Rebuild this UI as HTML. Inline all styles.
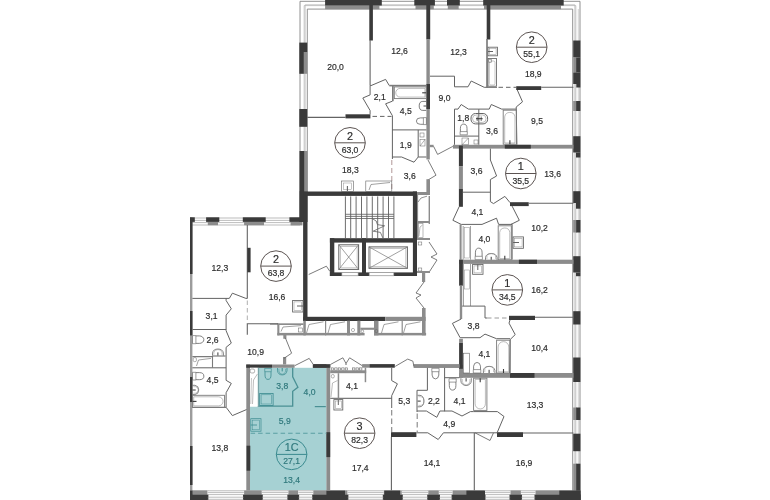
<!DOCTYPE html>
<html><head><meta charset="utf-8"><title>План этажа</title>
<style>html,body{margin:0;padding:0;background:#fff}svg{display:block;will-change:transform}text{font-family:"Liberation Sans",Arial,sans-serif;stroke-width:0.18px}</style>
</head><body>
<svg width="770" height="500" viewBox="0 0 770 500">
<rect width="770" height="500" fill="#fff"/>
<rect x="258.3" y="367.8" width="68.2" height="39.2" fill="#a6d1d3"/>
<rect x="250.0" y="406.5" width="76.5" height="84.0" fill="#a6d1d3"/>
<polyline points="300.0,192.0 300.0,1.3 580.0,1.3 580.0,500.0" fill="none" stroke="#858585" stroke-width="0.9"/>
<polyline points="304.2,192.0 304.2,5.6 575.8,5.6 575.8,500.0" fill="none" stroke="#a8a8a8" stroke-width="0.7"/>
<polyline points="307.3,192.0 307.3,9.1 572.7,9.1 572.7,500.0" fill="none" stroke="#858585" stroke-width="0.9"/>
<polyline points="305.3,192.0 305.3,4.6 574.7,4.6 574.7,495.0" fill="none" stroke="#b5b5b5" stroke-width="0.6"/>
<polyline points="578.3,9.0 578.3,490.0" fill="none" stroke="#b5b5b5" stroke-width="0.6"/>
<polyline points="190.0,490.6 580.0,490.6" fill="none" stroke="#8e8e8e" stroke-width="0.6"/>
<polyline points="190.0,493.0 580.0,493.0" fill="none" stroke="#8e8e8e" stroke-width="0.6"/>
<polyline points="190.0,496.0 580.0,496.0" fill="none" stroke="#8e8e8e" stroke-width="0.6"/>
<polyline points="190.0,499.2 580.0,499.2" fill="none" stroke="#8e8e8e" stroke-width="0.6"/>
<rect x="190.0" y="222.0" width="2.4" height="278.0" fill="#9c9c9c"/>
<polyline points="190.0,218.0 300.0,218.0" fill="none" stroke="#8e8e8e" stroke-width="0.6"/>
<polyline points="190.0,220.4 300.0,220.4" fill="none" stroke="#8e8e8e" stroke-width="0.6"/>
<polyline points="190.0,222.6 300.0,222.6" fill="none" stroke="#8e8e8e" stroke-width="0.6"/>
<polyline points="190.0,225.0 300.0,225.0" fill="none" stroke="#8e8e8e" stroke-width="0.6"/>
<rect x="325.1" y="5.5" width="54.3" height="3.7" fill="#8c8c8c"/>
<rect x="325.1" y="0.0" width="56.7" height="5.5" fill="#3a3a3a"/>
<rect x="415.5" y="5.5" width="18.3" height="3.7" fill="#8c8c8c"/>
<rect x="414.3" y="0.0" width="20.6" height="5.5" fill="#3a3a3a"/>
<rect x="447.8" y="5.5" width="10.9" height="3.7" fill="#8c8c8c"/>
<rect x="447.0" y="0.0" width="12.8" height="5.5" fill="#3a3a3a"/>
<rect x="484.0" y="5.5" width="77.0" height="3.7" fill="#8c8c8c"/>
<rect x="483.2" y="0.0" width="80.5" height="5.5" fill="#3a3a3a"/>
<rect x="369.3" y="5.0" width="3.6" height="35.5" fill="#3a3a3a"/>
<rect x="426.3" y="5.0" width="3.9" height="34.5" fill="#3a3a3a"/>
<rect x="486.7" y="5.0" width="3.6" height="34.5" fill="#3a3a3a"/>
<polyline points="370.1,40.0 370.1,85.6" fill="none" stroke="#636363" stroke-width="1.1"/>
<rect x="426.4" y="39.5" width="3.4" height="120.0" fill="#8c8c8c"/>
<rect x="426.4" y="84.0" width="3.6" height="25.0" fill="#3a3a3a"/>
<rect x="486.2" y="39.0" width="1.6" height="48.3" fill="#777"/>
<rect x="299.3" y="42.6" width="7.9" height="9.4" fill="#3a3a3a"/>
<rect x="299.3" y="52.0" width="4.6" height="21.8" fill="#3a3a3a"/>
<rect x="303.9" y="52.0" width="3.3" height="21.8" fill="#8c8c8c"/>
<rect x="299.3" y="109.0" width="7.9" height="17.8" fill="#3a3a3a"/>
<rect x="573.2" y="40.5" width="7.2" height="17.0" fill="#3a3a3a"/>
<rect x="573.2" y="57.5" width="3.6" height="15.0" fill="#8c8c8c"/>
<rect x="576.2" y="57.5" width="4.2" height="15.0" fill="#3a3a3a"/>
<rect x="573.2" y="72.5" width="7.2" height="11.5" fill="#3a3a3a"/>
<rect x="576.3" y="84.0" width="4.1" height="3.5" fill="#3a3a3a"/>
<rect x="573.2" y="101.0" width="3.6" height="10.0" fill="#8c8c8c"/>
<rect x="576.2" y="101.0" width="4.2" height="10.0" fill="#3a3a3a"/>
<rect x="573.2" y="136.2" width="7.2" height="16.3" fill="#3a3a3a"/>
<rect x="576.0" y="152.5" width="4.4" height="5.0" fill="#3a3a3a"/>
<rect x="573.2" y="191.2" width="7.2" height="11.8" fill="#3a3a3a"/>
<rect x="576.0" y="203.0" width="4.4" height="5.7" fill="#3a3a3a"/>
<rect x="573.2" y="220.0" width="3.6" height="12.5" fill="#8c8c8c"/>
<rect x="576.2" y="220.0" width="4.2" height="12.5" fill="#3a3a3a"/>
<rect x="573.2" y="256.2" width="7.2" height="16.3" fill="#3a3a3a"/>
<rect x="576.0" y="272.5" width="4.4" height="3.7" fill="#3a3a3a"/>
<rect x="573.2" y="311.2" width="7.2" height="13.3" fill="#3a3a3a"/>
<rect x="573.2" y="357.5" width="7.2" height="24.5" fill="#3a3a3a"/>
<rect x="573.2" y="407.5" width="3.6" height="12.5" fill="#8c8c8c"/>
<rect x="576.2" y="407.5" width="4.2" height="12.5" fill="#3a3a3a"/>
<rect x="573.2" y="433.7" width="7.2" height="17.5" fill="#3a3a3a"/>
<rect x="573.2" y="463.7" width="3.6" height="36.3" fill="#8c8c8c"/>
<rect x="576.2" y="463.7" width="4.2" height="36.3" fill="#3a3a3a"/>
<rect x="190.0" y="490.6" width="390.4" height="3.8" fill="#8c8c8c"/>
<rect x="190.0" y="494.4" width="18.6" height="5.6" fill="#3a3a3a"/>
<rect x="242.9" y="494.4" width="20.0" height="5.6" fill="#3a3a3a"/>
<rect x="287.2" y="494.4" width="12.1" height="5.6" fill="#3a3a3a"/>
<rect x="312.1" y="494.4" width="36.5" height="5.6" fill="#3a3a3a"/>
<rect x="382.6" y="494.4" width="20.3" height="5.6" fill="#3a3a3a"/>
<rect x="427.1" y="494.4" width="12.9" height="5.6" fill="#3a3a3a"/>
<rect x="451.4" y="494.4" width="34.3" height="5.6" fill="#3a3a3a"/>
<rect x="509.3" y="494.4" width="12.8" height="5.6" fill="#3a3a3a"/>
<rect x="534.3" y="494.4" width="46.3" height="5.6" fill="#3a3a3a"/>
<rect x="207.4" y="490.2" width="36.7" height="4.2" fill="#fff"/>
<rect x="208.6" y="490.2" width="34.3" height="9.8" fill="#fff"/>
<polyline points="207.6,490.8 243.9,490.8" fill="none" stroke="#8e8e8e" stroke-width="0.6"/>
<polyline points="207.6,492.6 243.9,492.6" fill="none" stroke="#8e8e8e" stroke-width="0.6"/>
<polyline points="207.6,494.6 243.9,494.6" fill="none" stroke="#8e8e8e" stroke-width="0.6"/>
<polyline points="207.6,497.2 243.9,497.2" fill="none" stroke="#8e8e8e" stroke-width="0.6"/>
<polyline points="207.6,499.3 243.9,499.3" fill="none" stroke="#8e8e8e" stroke-width="0.6"/>
<rect x="261.7" y="490.2" width="26.7" height="4.2" fill="#fff"/>
<rect x="262.9" y="490.2" width="24.3" height="9.8" fill="#fff"/>
<polyline points="261.9,490.8 288.2,490.8" fill="none" stroke="#8e8e8e" stroke-width="0.6"/>
<polyline points="261.9,492.6 288.2,492.6" fill="none" stroke="#8e8e8e" stroke-width="0.6"/>
<polyline points="261.9,494.6 288.2,494.6" fill="none" stroke="#8e8e8e" stroke-width="0.6"/>
<polyline points="261.9,497.2 288.2,497.2" fill="none" stroke="#8e8e8e" stroke-width="0.6"/>
<polyline points="261.9,499.3 288.2,499.3" fill="none" stroke="#8e8e8e" stroke-width="0.6"/>
<rect x="298.1" y="490.2" width="15.2" height="4.2" fill="#fff"/>
<rect x="299.3" y="490.2" width="12.8" height="9.8" fill="#fff"/>
<polyline points="298.3,490.8 313.1,490.8" fill="none" stroke="#8e8e8e" stroke-width="0.6"/>
<polyline points="298.3,492.6 313.1,492.6" fill="none" stroke="#8e8e8e" stroke-width="0.6"/>
<polyline points="298.3,494.6 313.1,494.6" fill="none" stroke="#8e8e8e" stroke-width="0.6"/>
<polyline points="298.3,497.2 313.1,497.2" fill="none" stroke="#8e8e8e" stroke-width="0.6"/>
<polyline points="298.3,499.3 313.1,499.3" fill="none" stroke="#8e8e8e" stroke-width="0.6"/>
<rect x="347.4" y="490.2" width="36.4" height="4.2" fill="#fff"/>
<rect x="348.6" y="490.2" width="34.0" height="9.8" fill="#fff"/>
<polyline points="347.6,490.8 383.6,490.8" fill="none" stroke="#8e8e8e" stroke-width="0.6"/>
<polyline points="347.6,492.6 383.6,492.6" fill="none" stroke="#8e8e8e" stroke-width="0.6"/>
<polyline points="347.6,494.6 383.6,494.6" fill="none" stroke="#8e8e8e" stroke-width="0.6"/>
<polyline points="347.6,497.2 383.6,497.2" fill="none" stroke="#8e8e8e" stroke-width="0.6"/>
<polyline points="347.6,499.3 383.6,499.3" fill="none" stroke="#8e8e8e" stroke-width="0.6"/>
<rect x="401.7" y="490.2" width="26.6" height="4.2" fill="#fff"/>
<rect x="402.9" y="490.2" width="24.2" height="9.8" fill="#fff"/>
<polyline points="401.9,490.8 428.1,490.8" fill="none" stroke="#8e8e8e" stroke-width="0.6"/>
<polyline points="401.9,492.6 428.1,492.6" fill="none" stroke="#8e8e8e" stroke-width="0.6"/>
<polyline points="401.9,494.6 428.1,494.6" fill="none" stroke="#8e8e8e" stroke-width="0.6"/>
<polyline points="401.9,497.2 428.1,497.2" fill="none" stroke="#8e8e8e" stroke-width="0.6"/>
<polyline points="401.9,499.3 428.1,499.3" fill="none" stroke="#8e8e8e" stroke-width="0.6"/>
<rect x="438.8" y="490.2" width="13.8" height="4.2" fill="#fff"/>
<rect x="440.0" y="490.2" width="11.4" height="9.8" fill="#fff"/>
<polyline points="439.0,490.8 452.4,490.8" fill="none" stroke="#8e8e8e" stroke-width="0.6"/>
<polyline points="439.0,492.6 452.4,492.6" fill="none" stroke="#8e8e8e" stroke-width="0.6"/>
<polyline points="439.0,494.6 452.4,494.6" fill="none" stroke="#8e8e8e" stroke-width="0.6"/>
<polyline points="439.0,497.2 452.4,497.2" fill="none" stroke="#8e8e8e" stroke-width="0.6"/>
<polyline points="439.0,499.3 452.4,499.3" fill="none" stroke="#8e8e8e" stroke-width="0.6"/>
<rect x="484.5" y="490.2" width="26.0" height="4.2" fill="#fff"/>
<rect x="485.7" y="490.2" width="23.6" height="9.8" fill="#fff"/>
<polyline points="484.7,490.8 510.3,490.8" fill="none" stroke="#8e8e8e" stroke-width="0.6"/>
<polyline points="484.7,492.6 510.3,492.6" fill="none" stroke="#8e8e8e" stroke-width="0.6"/>
<polyline points="484.7,494.6 510.3,494.6" fill="none" stroke="#8e8e8e" stroke-width="0.6"/>
<polyline points="484.7,497.2 510.3,497.2" fill="none" stroke="#8e8e8e" stroke-width="0.6"/>
<polyline points="484.7,499.3 510.3,499.3" fill="none" stroke="#8e8e8e" stroke-width="0.6"/>
<rect x="520.9" y="490.2" width="14.6" height="4.2" fill="#fff"/>
<rect x="522.1" y="490.2" width="12.2" height="9.8" fill="#fff"/>
<polyline points="521.1,490.8 535.3,490.8" fill="none" stroke="#8e8e8e" stroke-width="0.6"/>
<polyline points="521.1,492.6 535.3,492.6" fill="none" stroke="#8e8e8e" stroke-width="0.6"/>
<polyline points="521.1,494.6 535.3,494.6" fill="none" stroke="#8e8e8e" stroke-width="0.6"/>
<polyline points="521.1,497.2 535.3,497.2" fill="none" stroke="#8e8e8e" stroke-width="0.6"/>
<polyline points="521.1,499.3 535.3,499.3" fill="none" stroke="#8e8e8e" stroke-width="0.6"/>
<rect x="326.4" y="490.6" width="18.6" height="9.4" fill="#3a3a3a"/>
<rect x="384.3" y="490.6" width="15.7" height="9.4" fill="#3a3a3a"/>
<rect x="466.4" y="490.6" width="18.6" height="9.4" fill="#3a3a3a"/>
<rect x="559.3" y="490.6" width="21.3" height="9.4" fill="#3a3a3a"/>
<rect x="190.0" y="490.6" width="2.5" height="9.4" fill="#3a3a3a"/>
<rect x="207.8" y="221.8" width="10.2" height="3.4" fill="#8c8c8c"/>
<rect x="244.1" y="221.8" width="19.9" height="3.4" fill="#8c8c8c"/>
<rect x="290.6" y="221.8" width="11.9" height="3.6" fill="#8c8c8c"/>
<rect x="190.0" y="217.3" width="4.8" height="4.6" fill="#3a3a3a"/>
<rect x="206.1" y="217.3" width="13.2" height="4.6" fill="#3a3a3a"/>
<rect x="242.8" y="217.3" width="22.9" height="4.6" fill="#3a3a3a"/>
<rect x="289.4" y="217.3" width="10.6" height="4.6" fill="#3a3a3a"/>
<rect x="190.0" y="217.7" width="2.5" height="56.3" fill="#3a3a3a"/>
<rect x="190.0" y="311.0" width="2.5" height="24.4" fill="#3a3a3a"/>
<rect x="190.0" y="377.0" width="2.5" height="25.0" fill="#3a3a3a"/>
<rect x="190.0" y="446.0" width="2.5" height="39.0" fill="#3a3a3a"/>
<rect x="304.0" y="151.0" width="3.5" height="40.5" fill="#8c8c8c"/>
<rect x="299.5" y="151.0" width="4.7" height="71.0" fill="#3a3a3a"/>
<rect x="299.5" y="191.5" width="8.0" height="30.5" fill="#3a3a3a"/>
<rect x="303.1" y="192.0" width="4.4" height="129.0" fill="#3a3a3a"/>
<rect x="303.3" y="191.5" width="113.7" height="4.4" fill="#3a3a3a"/>
<rect x="412.9" y="191.5" width="4.1" height="84.5" fill="#3a3a3a"/>
<rect x="329.9" y="238.2" width="87.1" height="4.4" fill="#3a3a3a"/>
<rect x="329.9" y="238.2" width="4.4" height="37.8" fill="#3a3a3a"/>
<rect x="362.0" y="238.2" width="4.0" height="37.8" fill="#3a3a3a"/>
<rect x="329.9" y="272.4" width="87.1" height="3.6" fill="#3a3a3a"/>
<rect x="341.9" y="272.6" width="16.2" height="3.2" rx="0" fill="#fff" stroke="#9a9a9a" stroke-width="0.6"/>
<rect x="369.2" y="272.6" width="24.6" height="3.2" rx="0" fill="#fff" stroke="#9a9a9a" stroke-width="0.6"/>
<rect x="303.3" y="316.8" width="82.0" height="4.2" fill="#3a3a3a"/>
<rect x="385.3" y="316.8" width="40.3" height="4.2" fill="#8c8c8c"/>
<rect x="422.0" y="308.0" width="3.6" height="27.4" fill="#8c8c8c"/>
<rect x="338.8" y="244.8" width="19.8" height="24.6" rx="0" fill="none" stroke="#636363" stroke-width="1.0"/>
<polyline points="338.8,244.8 358.6,269.4" fill="none" stroke="#636363" stroke-width="0.6"/>
<polyline points="358.6,244.8 338.8,269.4" fill="none" stroke="#636363" stroke-width="0.6"/>
<rect x="340.3" y="246.3" width="16.8" height="21.6" rx="0" fill="none" stroke="#8e8e8e" stroke-width="0.5"/>
<rect x="369.0" y="246.9" width="38.4" height="21.4" rx="0" fill="none" stroke="#636363" stroke-width="1.0"/>
<polyline points="369.0,246.9 407.4,268.3" fill="none" stroke="#636363" stroke-width="0.6"/>
<polyline points="407.4,246.9 369.0,268.3" fill="none" stroke="#636363" stroke-width="0.6"/>
<rect x="370.5" y="248.4" width="35.4" height="18.4" rx="0" fill="none" stroke="#8e8e8e" stroke-width="0.5"/>
<polyline points="345.4,196.4 345.4,238.6" fill="none" stroke="#5c5c5c" stroke-width="0.9"/>
<polyline points="350.7,196.4 350.7,238.6" fill="none" stroke="#5c5c5c" stroke-width="0.9"/>
<polyline points="356.1,196.4 356.1,238.6" fill="none" stroke="#5c5c5c" stroke-width="0.9"/>
<polyline points="361.5,196.4 361.5,238.6" fill="none" stroke="#5c5c5c" stroke-width="0.9"/>
<polyline points="366.9,196.4 366.9,238.6" fill="none" stroke="#5c5c5c" stroke-width="0.9"/>
<polyline points="372.3,196.4 372.3,238.6" fill="none" stroke="#5c5c5c" stroke-width="0.9"/>
<polyline points="377.7,196.4 377.7,238.6" fill="none" stroke="#5c5c5c" stroke-width="0.9"/>
<polyline points="383.1,196.4 383.1,238.6" fill="none" stroke="#5c5c5c" stroke-width="0.9"/>
<polyline points="388.5,196.4 388.5,238.6" fill="none" stroke="#5c5c5c" stroke-width="0.9"/>
<polyline points="393.9,196.4 393.9,238.6" fill="none" stroke="#5c5c5c" stroke-width="0.9"/>
<polyline points="345.4,214.3 393.9,214.3" fill="none" stroke="#5c5c5c" stroke-width="0.8"/>
<polyline points="345.4,216.4 393.9,216.4" fill="none" stroke="#5c5c5c" stroke-width="0.8"/>
<polyline points="345.4,218.5 393.9,218.5" fill="none" stroke="#5c5c5c" stroke-width="0.8"/>
<polyline points="372.2,218.6 376.2,221.0 377.4,224.6 384.6,225.8 373.2,231.2 380.4,232.4 382.8,237.8" fill="none" stroke="#636363" stroke-width="0.8"/>
<polyline points="308.7,274.5 326.4,266.2 329.9,271.4" fill="none" stroke="#636363" stroke-width="0.85"/>
<polyline points="270.0,324.1 303.3,324.1" fill="none" stroke="#636363" stroke-width="0.85"/>
<rect x="277.3" y="323.6" width="26.0" height="1.4" fill="#8c8c8c"/>
<rect x="277.3" y="323.6" width="2.1" height="11.8" fill="#8c8c8c"/>
<rect x="277.3" y="332.9" width="87.3" height="2.5" fill="#8c8c8c"/>
<rect x="374.0" y="332.9" width="52.1" height="2.5" fill="#8c8c8c"/>
<rect x="303.3" y="320.7" width="2.5" height="14.7" fill="#8c8c8c"/>
<rect x="325.0" y="320.7" width="1.2" height="14.7" fill="#8c8c8c"/>
<rect x="347.0" y="320.7" width="3.0" height="14.7" fill="#8c8c8c"/>
<rect x="357.3" y="320.7" width="3.1" height="14.7" fill="#8c8c8c"/>
<rect x="374.0" y="320.7" width="4.5" height="14.7" fill="#8c8c8c"/>
<rect x="401.6" y="320.7" width="1.2" height="14.7" fill="#8c8c8c"/>
<rect x="360.4" y="327.7" width="13.6" height="2.1" fill="#8c8c8c"/>
<rect x="351.5" y="328.5" width="3.0" height="3.0" rx="1.2" fill="none" stroke="#636363" stroke-width="0.5"/>
<rect x="361.2" y="330.0" width="2.4" height="2.6" rx="1" fill="none" stroke="#636363" stroke-width="0.5"/>
<rect x="375.2" y="329.5" width="2.4" height="3.1" rx="1" fill="none" stroke="#636363" stroke-width="0.5"/>
<polyline points="306.5,333.0 309.0,324.5 323.5,321.8" fill="none" stroke="#636363" stroke-width="0.6"/>
<polyline points="328.0,333.0 330.5,324.5 345.0,321.8" fill="none" stroke="#636363" stroke-width="0.6"/>
<polyline points="381.5,333.0 384.0,324.5 398.5,321.8" fill="none" stroke="#636363" stroke-width="0.6"/>
<polyline points="403.5,333.0 406.0,324.5 420.5,321.8" fill="none" stroke="#636363" stroke-width="0.6"/>
<polyline points="281.0,331.5 283.0,327.0 301.0,325.6" fill="none" stroke="#636363" stroke-width="0.6"/>
<rect x="298.5" y="328.0" width="4.0" height="4.0" rx="0" fill="none" stroke="#636363" stroke-width="0.5"/>
<rect x="417.0" y="192.0" width="13.0" height="3.0" fill="#8c8c8c"/>
<rect x="427.0" y="180.0" width="3.0" height="15.0" fill="#8c8c8c"/>
<rect x="417.0" y="195.0" width="1.1" height="45.0" fill="#8c8c8c"/>
<polyline points="418.0,202.0 421.0,198.0 427.0,196.2" fill="none" stroke="#636363" stroke-width="0.7"/>
<rect x="428.6" y="196.0" width="1.4" height="28.0" fill="#8c8c8c"/>
<rect x="417.4" y="221.0" width="12.6" height="2.0" fill="#8c8c8c"/>
<rect x="417.4" y="238.0" width="12.6" height="2.0" fill="#8c8c8c"/>
<rect x="418.4" y="223.4" width="4.6" height="14.2" rx="0" fill="none" stroke="#8a8a8a" stroke-width="0.6"/>
<polyline points="419.0,236.0 420.0,227.0 422.6,225.0" fill="none" stroke="#8e8e8e" stroke-width="0.6"/>
<rect x="418.2" y="242.0" width="3.6" height="3.0" rx="0" fill="none" stroke="#636363" stroke-width="0.5"/>
<rect x="418.2" y="268.0" width="3.6" height="3.0" rx="0" fill="none" stroke="#636363" stroke-width="0.5"/>
<polyline points="429.0,242.0 437.0,254.0 431.0,257.0 437.0,260.0 428.6,273.0" fill="none" stroke="#636363" stroke-width="0.85"/>
<rect x="417.0" y="271.0" width="13.0" height="2.0" fill="#8c8c8c"/>
<rect x="422.0" y="273.0" width="3.2" height="9.0" fill="#8c8c8c"/>
<polyline points="424.0,282.0 416.0,293.0 421.0,295.0 416.0,298.0 424.0,308.0" fill="none" stroke="#636363" stroke-width="0.85"/>
<polyline points="307.2,117.4 345.5,117.4" fill="none" stroke="#636363" stroke-width="1.1"/>
<rect x="345.5" y="114.3" width="24.9" height="4.1" fill="#3a3a3a"/>
<polyline points="372.5,116.4 391.5,116.4" fill="none" stroke="#636363" stroke-width="1.0" stroke-dasharray="4.5,3"/>
<polyline points="370.1,85.6 371.0,85.6 385.6,79.4 389.3,85.6" fill="none" stroke="#636363" stroke-width="1.0"/>
<rect x="389.3" y="84.8" width="37.1" height="1.6" fill="#7c7c7c"/>
<rect x="392.0" y="85.6" width="1.7" height="15.6" fill="#7c7c7c"/>
<polyline points="370.1,85.6 370.1,94.9 362.8,98.0 370.1,110.5 370.1,114.3" fill="none" stroke="#636363" stroke-width="1.0"/>
<polyline points="392.4,101.2 385.6,103.8 392.4,115.7 392.4,159.0" fill="none" stroke="#636363" stroke-width="1.0"/>
<rect x="394.3" y="86.9" width="31.9" height="11.7" rx="0" fill="none" stroke="#7a7a7a" stroke-width="0.9"/>
<path d="M425.0 88.4H400.1a4.3 4.3 0 0 0 0 8.7H425.0z" fill="none" stroke="#8e8e8e" stroke-width="0.6"/>
<polyline points="422.2,92.8 426.2,92.8" fill="none" stroke="#3a3a3a" stroke-width="1.1"/>
<polyline points="392.2,129.9 426.4,129.9" fill="none" stroke="#636363" stroke-width="1.0"/>
<polyline points="418.2,129.9 418.2,157.0" fill="none" stroke="#636363" stroke-width="1.0"/>
<polyline points="392.2,157.0 401.6,157.0 414.0,162.2 418.2,157.0 426.4,157.0" fill="none" stroke="#636363" stroke-width="1.0"/>
<polyline points="391.8,160.0 391.8,191.0" fill="none" stroke="#a88c8c" stroke-width="0.9" stroke-dasharray="5,3"/>
<path d="M426.2 101.4h-3.4a3.6 4.5 0 0 0 0 9h3.4" fill="none" stroke="#5a5a5a" stroke-width="0.8"/>
<polyline points="423.5,106.0 426.2,106.0" fill="none" stroke="#3a3a3a" stroke-width="0.9"/>
<path d="M426.4 117.6v7.0h-3.0v-7.0z" fill="none" stroke="#636363" stroke-width="0.6400000000000001"/>
<path d="M423.4 117.9h-3.0a4.0 3.2 0 0 0 0 6.4h3.0" fill="none" stroke="#636363" stroke-width="0.8"/>
<rect x="420.0" y="133.0" width="4.0" height="4.0" rx="0" fill="none" stroke="#636363" stroke-width="0.5"/>
<rect x="420.0" y="139.5" width="5.0" height="6.5" rx="0" fill="none" stroke="#636363" stroke-width="0.5"/>
<polyline points="420.0,146.0 425.0,139.5" fill="none" stroke="#636363" stroke-width="0.5"/>
<rect x="429.6" y="144.8" width="4.0" height="2.4" fill="#8c8c8c"/>
<polyline points="433.6,146.4 437.6,154.4 452.8,146.4" fill="none" stroke="#636363" stroke-width="0.85"/>
<polyline points="428.0,160.0 436.0,175.2 428.0,180.0" fill="none" stroke="#636363" stroke-width="0.85"/>
<rect x="426.4" y="179.2" width="3.4" height="12.8" fill="#8c8c8c"/>
<rect x="341.5" y="181.0" width="11.9" height="10.4" rx="0" fill="none" stroke="#636363" stroke-width="0.6"/>
<rect x="343.5" y="183.0" width="7.9" height="6.4" rx="0" fill="none" stroke="#8e8e8e" stroke-width="0.5"/>
<polyline points="347.4,186.0 347.4,191.0" fill="none" stroke="#636363" stroke-width="1.1"/>
<rect x="365.8" y="181.0" width="26.0" height="10.4" rx="0" fill="none" stroke="#636363" stroke-width="0.6"/>
<polyline points="369.0,190.0 371.0,184.5 390.0,182.5" fill="none" stroke="#636363" stroke-width="0.6"/>
<polyline points="430.0,76.2 454.5,76.2 454.5,86.8 468.0,86.8 471.2,81.0 484.2,87.3 497.0,87.3" fill="none" stroke="#636363" stroke-width="1.0"/>
<polyline points="498.5,87.3 516.0,87.3" fill="none" stroke="#636363" stroke-width="1.0" stroke-dasharray="4.5,3"/>
<rect x="516.2" y="86.2" width="25.0" height="3.8" fill="#3a3a3a"/>
<polyline points="541.2,87.3 573.4,87.3" fill="none" stroke="#636363" stroke-width="1.1"/>
<rect x="488.0" y="47.2" width="9.5" height="8.6" rx="0" fill="none" stroke="#636363" stroke-width="0.85"/>
<rect x="489.4" y="48.6" width="6.7" height="5.8" rx="0" fill="none" stroke="#8e8e8e" stroke-width="0.5"/>
<polyline points="488.0,51.5 493.0,51.5" fill="none" stroke="#636363" stroke-width="1.0"/>
<rect x="488.0" y="58.5" width="8.5" height="27.7" rx="0" fill="none" stroke="#636363" stroke-width="0.85"/>
<rect x="489.4" y="61.0" width="5.6" height="24.0" rx="1.5" fill="none" stroke="#8e8e8e" stroke-width="0.5"/>
<rect x="488.8" y="59.3" width="2.7" height="3.2" rx="0" fill="none" stroke="#636363" stroke-width="0.5"/>
<polyline points="517.3,90.0 522.5,101.8 516.2,107.0 516.9,144.8" fill="none" stroke="#636363" stroke-width="1.0"/>
<polyline points="454.5,144.8 454.5,109.1 458.0,109.1 461.2,104.5 468.4,109.1 478.8,109.1 478.8,144.8" fill="none" stroke="#636363" stroke-width="1.0"/>
<polyline points="478.8,109.1 489.2,109.1 491.3,104.5 501.7,109.1 516.2,109.1" fill="none" stroke="#636363" stroke-width="1.0"/>
<rect x="503.2" y="110.2" width="13.3" height="34.0" rx="0" fill="none" stroke="#7a7a7a" stroke-width="0.9"/>
<path d="M504.7 143.0V116.9a5.2 5.2 0 0 1 10.3 0V143.0z" fill="none" stroke="#8e8e8e" stroke-width="0.6"/>
<polyline points="509.9,140.2 509.9,144.2" fill="none" stroke="#3a3a3a" stroke-width="1.1"/>
<polyline points="454.5,136.1 478.8,136.1" fill="none" stroke="#636363" stroke-width="1.0"/>
<rect x="471.0" y="113.5" width="16.6" height="10.4" rx="4.5" fill="none" stroke="#636363" stroke-width="1.0"/>
<rect x="472.6" y="115.0" width="13.4" height="7.4" rx="3.5" fill="none" stroke="#8e8e8e" stroke-width="0.6"/>
<polyline points="476.0,118.7 482.6,118.7" fill="none" stroke="#3a3a3a" stroke-width="1.1"/>
<polyline points="477.2,116.5 477.2,121.0" fill="none" stroke="#3a3a3a" stroke-width="0.7"/>
<polyline points="481.2,116.5 481.2,121.0" fill="none" stroke="#3a3a3a" stroke-width="0.7"/>
<path d="M460.1 134.8h7.2v-3.2h-7.2z" fill="none" stroke="#636363" stroke-width="0.6400000000000001"/>
<path d="M460.4 131.6v-3.2a3.3 4.3 0 0 1 6.6 0v3.2" fill="none" stroke="#636363" stroke-width="0.8"/>
<rect x="462.0" y="138.0" width="6.5" height="6.8" rx="0" fill="none" stroke="#636363" stroke-width="0.5"/>
<polyline points="462.0,144.8 468.5,138.0" fill="none" stroke="#636363" stroke-width="0.5"/>
<rect x="474.0" y="140.0" width="4.0" height="4.0" rx="0" fill="none" stroke="#636363" stroke-width="0.5"/>
<rect x="452.9" y="144.8" width="120.5" height="3.8" fill="#8c8c8c"/>
<rect x="504.8" y="144.8" width="26.0" height="3.8" fill="#3a3a3a"/>
<rect x="458.9" y="145.6" width="4.0" height="20.8" fill="#3a3a3a"/>
<rect x="458.9" y="166.4" width="4.0" height="22.4" fill="#8c8c8c"/>
<rect x="458.9" y="188.8" width="4.0" height="18.0" fill="#3a3a3a"/>
<polyline points="490.4,148.6 490.4,160.0 496.6,176.0 490.4,179.5 490.4,201.6 493.5,203.6 504.9,196.4 510.0,202.6" fill="none" stroke="#636363" stroke-width="1.0"/>
<polyline points="462.9,192.2 490.4,192.2" fill="none" stroke="#636363" stroke-width="1.0"/>
<rect x="510.0" y="202.2" width="18.7" height="3.9" fill="#3a3a3a"/>
<polyline points="528.7,203.2 573.4,203.2" fill="none" stroke="#636363" stroke-width="1.1"/>
<polyline points="459.1,206.8 452.9,220.3 461.2,224.4 482.0,224.4 496.5,218.2 498.6,224.4 512.1,224.4" fill="none" stroke="#636363" stroke-width="1.0"/>
<polyline points="512.1,206.1 519.3,220.3 511.0,224.4 512.1,224.4 512.1,259.7" fill="none" stroke="#636363" stroke-width="1.0"/>
<rect x="459.6" y="224.4" width="2.0" height="35.3" fill="#8c8c8c"/>
<polyline points="463.2,226.0 463.2,259.7" fill="none" stroke="#636363" stroke-width="0.6"/>
<polyline points="470.5,226.0 470.5,259.7" fill="none" stroke="#636363" stroke-width="0.6"/>
<rect x="464.5" y="227.5" width="4.8" height="30.5" rx="0" fill="none" stroke="#8e8e8e" stroke-width="0.5"/>
<rect x="498.2" y="225.8" width="13.1" height="34.0" rx="0" fill="none" stroke="#7a7a7a" stroke-width="0.9"/>
<path d="M499.7 258.6V232.4a5.1 5.1 0 0 1 10.1 0V258.6z" fill="none" stroke="#8e8e8e" stroke-width="0.6"/>
<polyline points="504.8,255.8 504.8,259.8" fill="none" stroke="#3a3a3a" stroke-width="1.1"/>
<path d="M475.1 259.7h7.3v-3.4h-7.3z" fill="none" stroke="#636363" stroke-width="0.6400000000000001"/>
<path d="M475.4 256.2v-3.4a3.3 4.6 0 0 1 6.7 0v3.4" fill="none" stroke="#636363" stroke-width="0.8"/>
<path d="M485.5 259.9v-2.4a5.8 4.5 0 0 1 11.5 0v2.4" fill="none" stroke="#636363" stroke-width="0.8"/>
<path d="M486.9 259.1v-2.1a4.3 3.5 0 0 1 8.7 0v2.1" fill="none" stroke="#8e8e8e" stroke-width="0.5"/>
<polyline points="491.2,259.9 491.2,256.8" fill="none" stroke="#3a3a3a" stroke-width="1"/>
<rect x="513.1" y="236.9" width="10.4" height="11.4" rx="0" fill="none" stroke="#636363" stroke-width="0.85"/>
<rect x="514.5" y="238.3" width="7.6" height="8.6" rx="0" fill="none" stroke="#8e8e8e" stroke-width="0.5"/>
<polyline points="513.1,242.5 519.0,242.5" fill="none" stroke="#636363" stroke-width="1.0"/>
<rect x="459.1" y="259.7" width="114.3" height="4.2" fill="#8c8c8c"/>
<rect x="518.9" y="259.7" width="18.1" height="4.2" fill="#3a3a3a"/>
<rect x="459.1" y="259.7" width="3.8" height="26.0" fill="#3a3a3a"/>
<rect x="459.8" y="285.7" width="2.4" height="33.3" fill="#8c8c8c"/>
<polyline points="463.5,264.0 463.5,306.0" fill="none" stroke="#636363" stroke-width="0.6"/>
<polyline points="470.5,264.0 470.5,306.0" fill="none" stroke="#636363" stroke-width="0.6"/>
<rect x="464.6" y="270.0" width="4.8" height="19.0" rx="0" fill="none" stroke="#8e8e8e" stroke-width="0.5"/>
<rect x="472.6" y="264.5" width="10.4" height="9.8" rx="0" fill="none" stroke="#636363" stroke-width="0.85"/>
<rect x="474.0" y="265.9" width="7.6" height="7.0" rx="0" fill="none" stroke="#8e8e8e" stroke-width="0.5"/>
<polyline points="477.8,264.5 477.8,270.0" fill="none" stroke="#636363" stroke-width="1.0"/>
<polyline points="462.2,306.1 485.0,306.1 485.0,318.0 487.0,318.0" fill="none" stroke="#636363" stroke-width="1.0"/>
<polyline points="487.0,318.0 508.0,318.0" fill="none" stroke="#9a9a9a" stroke-width="1.0" stroke-dasharray="4.5,3"/>
<rect x="509.0" y="315.8" width="26.0" height="4.2" fill="#3a3a3a"/>
<polyline points="535.0,317.3 573.4,317.3" fill="none" stroke="#636363" stroke-width="1.1"/>
<polyline points="461.2,319.0 452.4,323.4 460.1,337.7 480.0,337.7 485.0,334.1 496.5,338.7 510.0,338.7" fill="none" stroke="#636363" stroke-width="1.0"/>
<polyline points="510.0,320.0 509.0,323.1 515.2,334.6 510.0,339.7 509.6,373.0" fill="none" stroke="#636363" stroke-width="1.0"/>
<rect x="413.6" y="364.3" width="45.8" height="3.5" fill="#8c8c8c"/>
<rect x="459.1" y="364.7" width="3.9" height="13.1" fill="#8c8c8c"/>
<rect x="459.1" y="342.5" width="3.8" height="26.3" fill="#3a3a3a"/>
<rect x="459.1" y="338.8" width="3.8" height="3.7" fill="#8c8c8c"/>
<rect x="459.1" y="373.0" width="114.3" height="4.8" fill="#8c8c8c"/>
<rect x="510.0" y="373.0" width="24.5" height="4.8" fill="#3a3a3a"/>
<rect x="463.3" y="353.2" width="6.2" height="19.8" rx="0" fill="none" stroke="#636363" stroke-width="0.6"/>
<path d="M473.3 373.0h7.5v-3.4h-7.5z" fill="none" stroke="#636363" stroke-width="0.6400000000000001"/>
<path d="M473.6 369.6v-3.4a3.5 4.5 0 0 1 6.9 0v3.4" fill="none" stroke="#636363" stroke-width="0.8"/>
<path d="M483.4 373.0v-2.5a5.8 4.7 0 0 1 11.5 0v2.5" fill="none" stroke="#636363" stroke-width="0.8"/>
<path d="M484.8 372.2v-2.2a4.3 3.6 0 0 1 8.7 0v2.2" fill="none" stroke="#8e8e8e" stroke-width="0.5"/>
<polyline points="489.1,373.0 489.1,369.8" fill="none" stroke="#3a3a3a" stroke-width="1"/>
<rect x="496.6" y="340.2" width="13.7" height="32.8" rx="0" fill="none" stroke="#7a7a7a" stroke-width="0.9"/>
<path d="M498.1 371.8V347.0a5.3 5.3 0 0 1 10.7 0V371.8z" fill="none" stroke="#8e8e8e" stroke-width="0.6"/>
<polyline points="503.5,369.0 503.5,373.0" fill="none" stroke="#3a3a3a" stroke-width="1.1"/>
<rect x="313.1" y="364.1" width="17.3" height="3.6" fill="#3a3a3a"/>
<rect x="362.1" y="364.1" width="7.3" height="3.6" fill="#8c8c8c"/>
<rect x="369.4" y="364.1" width="25.4" height="3.6" fill="#3a3a3a"/>
<rect x="413.9" y="364.3" width="45.7" height="3.5" fill="#8c8c8c"/>
<polyline points="395.2,366.4 407.7,359.1 412.9,361.2 413.9,366.4" fill="none" stroke="#636363" stroke-width="0.85"/>
<polyline points="330.4,364.5 342.9,357.8 346.0,363.5 349.6,357.8 362.1,365.6" fill="none" stroke="#636363" stroke-width="0.85"/>
<polyline points="346.0,363.5 346.0,365.0" fill="none" stroke="#636363" stroke-width="1"/>
<rect x="326.4" y="364.3" width="3.8" height="126.2" fill="#8c8c8c"/>
<rect x="326.4" y="432.2" width="3.8" height="24.9" fill="#3a3a3a"/>
<rect x="331.2" y="367.9" width="2.4" height="2.2" rx="0" fill="none" stroke="#666" stroke-width="0.6"/>
<rect x="334.7" y="367.9" width="2.4" height="2.2" rx="0" fill="none" stroke="#666" stroke-width="0.6"/>
<rect x="338.2" y="367.9" width="2.4" height="2.2" rx="0" fill="none" stroke="#666" stroke-width="0.6"/>
<rect x="341.7" y="367.9" width="2.4" height="2.2" rx="0" fill="none" stroke="#666" stroke-width="0.6"/>
<rect x="345.2" y="367.9" width="2.4" height="2.2" rx="0" fill="none" stroke="#666" stroke-width="0.6"/>
<rect x="352.5" y="367.9" width="2.4" height="2.2" rx="0" fill="none" stroke="#666" stroke-width="0.6"/>
<rect x="356.0" y="367.9" width="2.4" height="2.2" rx="0" fill="none" stroke="#666" stroke-width="0.6"/>
<rect x="359.5" y="367.9" width="2.4" height="2.2" rx="0" fill="none" stroke="#666" stroke-width="0.6"/>
<rect x="330.2" y="370.3" width="36.0" height="2.9" fill="#8c8c8c"/>
<rect x="364.7" y="367.7" width="1.5" height="14.5" fill="#8c8c8c"/>
<polyline points="330.2,398.4 391.7,398.4" fill="none" stroke="#7a7a7a" stroke-width="1.2"/>
<rect x="337.7" y="373.2" width="1.5" height="25.4" fill="#8c8c8c"/>
<rect x="331.3" y="374.5" width="3.0" height="3.5" rx="1.4" fill="none" stroke="#636363" stroke-width="0.5"/>
<polyline points="331.0,397.0 332.5,383.0 337.5,380.5" fill="none" stroke="#8e8e8e" stroke-width="0.6"/>
<polyline points="391.7,367.8 391.7,380.6 397.4,383.8 391.7,395.7 391.7,408.0" fill="none" stroke="#636363" stroke-width="1.0"/>
<polyline points="391.7,410.0 391.7,432.0" fill="none" stroke="#858585" stroke-width="1.1" stroke-dasharray="5.5,3"/>
<polyline points="417.2,413.5 417.2,432.0" fill="none" stroke="#858585" stroke-width="1.1" stroke-dasharray="5.5,3"/>
<rect x="333.9" y="399.6" width="8.9" height="10.4" rx="0" fill="none" stroke="#636363" stroke-width="0.85"/>
<rect x="335.3" y="401.0" width="6.1" height="7.6" rx="0" fill="none" stroke="#8e8e8e" stroke-width="0.5"/>
<polyline points="338.3,399.6 338.3,405.0" fill="none" stroke="#636363" stroke-width="1.0"/>
<rect x="391.0" y="432.2" width="25.4" height="4.8" fill="#3a3a3a"/>
<polyline points="391.4,437.0 391.4,490.5" fill="none" stroke="#636363" stroke-width="1.1"/>
<polyline points="416.4,432.8 427.8,432.8 438.2,439.5 443.4,432.8 497.0,432.8" fill="none" stroke="#636363" stroke-width="1.0"/>
<polyline points="475.0,432.8 490.0,440.5 493.5,432.8" fill="none" stroke="#636363" stroke-width="0.85"/>
<polyline points="474.3,432.8 474.3,490.4" fill="none" stroke="#636363" stroke-width="1.1"/>
<rect x="497.0" y="432.2" width="26.0" height="4.8" fill="#3a3a3a"/>
<polyline points="523.0,433.0 573.4,433.0" fill="none" stroke="#636363" stroke-width="1.1"/>
<polyline points="427.4,367.8 427.4,390.3 417.0,390.3 417.0,412.0" fill="none" stroke="#636363" stroke-width="1.0"/>
<polyline points="444.6,367.8 444.6,411.4" fill="none" stroke="#636363" stroke-width="1.0"/>
<polyline points="417.0,411.0 426.4,411.0 436.8,417.3 439.9,411.0 444.6,411.0 452.0,411.0 462.0,416.0 470.4,411.6 473.6,411.6" fill="none" stroke="#636363" stroke-width="1.0"/>
<polyline points="444.6,377.7 459.4,377.7" fill="none" stroke="#636363" stroke-width="1.0"/>
<polyline points="473.6,411.6 497.4,411.6 504.0,416.5 497.0,433.0" fill="none" stroke="#636363" stroke-width="1.0"/>
<path d="M431.8 368.3h7.3v3.4h-7.3z" fill="none" stroke="#636363" stroke-width="0.6400000000000001"/>
<path d="M432.1 371.7v3.4a3.4 4.6 0 0 0 6.7 0v-3.4" fill="none" stroke="#636363" stroke-width="0.8"/>
<path d="M449.0 378.7h7.2v3.4h-7.2z" fill="none" stroke="#636363" stroke-width="0.6400000000000001"/>
<path d="M449.3 382.1v3.4a3.3 4.6 0 0 0 6.6 0v-3.4" fill="none" stroke="#636363" stroke-width="0.8"/>
<path d="M417.6 395.3h2.4a4.5 5.8 0 0 1 0 11.5h-2.4" fill="none" stroke="#636363" stroke-width="0.8"/>
<path d="M418.4 396.7h2.1a3.4 4.3 0 0 1 0 8.7h-2.1" fill="none" stroke="#8e8e8e" stroke-width="0.5"/>
<polyline points="417.6,401.1 420.7,401.1" fill="none" stroke="#3a3a3a" stroke-width="1"/>
<path d="M460.9 378.2v2.6a5.2 4.7 0 0 0 10.4 0v-2.6" fill="none" stroke="#636363" stroke-width="0.8"/>
<path d="M462.3 379.0v2.2a3.8 3.7 0 0 0 7.6 0v-2.2" fill="none" stroke="#8e8e8e" stroke-width="0.5"/>
<polyline points="466.1,378.2 466.1,381.5" fill="none" stroke="#3a3a3a" stroke-width="1"/>
<rect x="473.6" y="378.2" width="13.3" height="32.2" rx="0" fill="none" stroke="#7a7a7a" stroke-width="0.9"/>
<path d="M475.1 379.4V403.8a5.1 5.1 0 0 0 10.3 0V379.4z" fill="none" stroke="#8e8e8e" stroke-width="0.6"/>
<polyline points="480.2,382.2 480.2,378.2" fill="none" stroke="#3a3a3a" stroke-width="1.1"/>
<polyline points="247.3,225.0 247.3,298.4" fill="none" stroke="#636363" stroke-width="1.1"/>
<rect x="247.3" y="247.8" width="3.3" height="24.5" fill="#3a3a3a"/>
<polyline points="192.4,298.4 229.3,298.4 232.4,293.2 245.9,298.4 247.3,298.4" fill="none" stroke="#636363" stroke-width="1.0"/>
<polyline points="247.3,300.5 247.3,321.0" fill="none" stroke="#a5a5a5" stroke-width="0.9" stroke-dasharray="4.5,3"/>
<polyline points="247.3,334.8 247.3,323.8 278.0,323.8" fill="none" stroke="#636363" stroke-width="1.1"/>
<polyline points="226.1,298.4 226.1,300.5 231.3,308.8 226.1,315.1 226.1,330.7 231.3,343.1 226.1,347.3 226.1,380.3 231.3,383.4 226.1,392.7 226.1,407.3" fill="none" stroke="#636363" stroke-width="1.0"/>
<polyline points="192.4,329.5 226.1,329.5" fill="none" stroke="#636363" stroke-width="1.0"/>
<polyline points="192.4,356.6 212.5,356.6 212.5,367.6" fill="none" stroke="#7a7a7a" stroke-width="1.1"/>
<polyline points="192.4,367.8 226.1,367.8" fill="none" stroke="#636363" stroke-width="1.0"/>
<polyline points="192.4,407.3 226.1,407.3 232.4,415.6 246.9,409.4" fill="none" stroke="#636363" stroke-width="1.0"/>
<rect x="292.6" y="300.5" width="10.4" height="11.5" rx="0" fill="none" stroke="#636363" stroke-width="0.85"/>
<rect x="294.0" y="301.9" width="7.6" height="8.7" rx="0" fill="none" stroke="#8e8e8e" stroke-width="0.5"/>
<polyline points="297.0,306.0 303.0,306.0" fill="none" stroke="#636363" stroke-width="1.0"/>
<path d="M192.5 335.6v8.1h3.4v-8.1z" fill="none" stroke="#636363" stroke-width="0.6400000000000001"/>
<path d="M195.9 335.9h3.4a4.5 3.7 0 0 1 0 7.5h-3.4" fill="none" stroke="#636363" stroke-width="0.8"/>
<path d="M212.5 355.6v-2.5a5.5 4.7 0 0 1 10.9 0v2.5" fill="none" stroke="#636363" stroke-width="0.8"/>
<path d="M213.9 354.8v-2.2a4.1 3.6 0 0 1 8.1 0v2.2" fill="none" stroke="#8e8e8e" stroke-width="0.5"/>
<polyline points="217.9,355.6 217.9,352.4" fill="none" stroke="#3a3a3a" stroke-width="1"/>
<polyline points="212.5,356.0 225.5,356.0" fill="none" stroke="#636363" stroke-width="1.0"/>
<polyline points="196.5,366.0 198.5,360.0 211.0,358.4" fill="none" stroke="#636363" stroke-width="0.6"/>
<rect x="193.2" y="357.6" width="3.2" height="4.0" rx="1.2" fill="none" stroke="#636363" stroke-width="0.5"/>
<path d="M192.5 372.3v7.7h3.4v-7.7z" fill="none" stroke="#636363" stroke-width="0.6400000000000001"/>
<path d="M195.9 372.6h3.4a4.5 3.5 0 0 1 0 7.1h-3.4" fill="none" stroke="#636363" stroke-width="0.8"/>
<path d="M192.5 385.3h2.4a4.5 4.7 0 0 1 0 9.3h-2.4" fill="none" stroke="#636363" stroke-width="0.8"/>
<path d="M193.3 386.7h2.1a3.5 3.3 0 0 1 0 6.5h-2.1" fill="none" stroke="#8e8e8e" stroke-width="0.5"/>
<polyline points="192.5,390.0 195.7,390.0" fill="none" stroke="#3a3a3a" stroke-width="1"/>
<rect x="192.5" y="395.3" width="32.0" height="12.1" rx="0" fill="none" stroke="#7a7a7a" stroke-width="0.9"/>
<path d="M193.7 396.8H218.5a4.5 4.5 0 0 1 0 9.1H193.7z" fill="none" stroke="#8e8e8e" stroke-width="0.6"/>
<polyline points="196.5,401.4 192.5,401.4" fill="none" stroke="#3a3a3a" stroke-width="1.1"/>
<rect x="283.3" y="334.8" width="3.1" height="4.0" fill="#8c8c8c"/>
<rect x="283.0" y="357.0" width="3.2" height="7.5" fill="#8c8c8c"/>
<polyline points="285.3,337.7 291.6,353.2 283.9,358.4" fill="none" stroke="#636363" stroke-width="0.85"/>
<polyline points="294.7,365.7 309.2,358.4 313.4,364.7" fill="none" stroke="#636363" stroke-width="0.85"/>
<rect x="246.3" y="364.5" width="3.7" height="126.0" fill="#8c8c8c"/>
<rect x="246.6" y="445.7" width="3.7" height="25.0" fill="#3a3a3a"/>
<rect x="272.2" y="364.5" width="22.4" height="3.3" fill="#8c8c8c"/>
<rect x="246.2" y="364.5" width="26.0" height="3.3" fill="#3a3a3a"/>
<rect x="312.8" y="364.5" width="17.1" height="3.3" fill="#3a3a3a"/>
<rect x="257.5" y="367.8" width="1.6" height="39.2" fill="#78a3a6"/>
<rect x="250.0" y="367.8" width="7.6" height="38.7" fill="#fff"/>
<rect x="250.2" y="369.0" width="4.4" height="4.0" rx="1.5" fill="none" stroke="#636363" stroke-width="0.5"/>
<polyline points="252.5,404.0 253.5,380.0 257.4,374.0" fill="none" stroke="#8e8e8e" stroke-width="0.6"/>
<polyline points="250.8,404.0 251.5,378.0" fill="none" stroke="#8e8e8e" stroke-width="0.5"/>
<polyline points="292.7,367.8 292.7,376.9 297.9,387.3 292.7,391.2 292.7,406.2 258.9,406.2" fill="none" stroke="#4a9094" stroke-width="1.3"/>
<rect x="259.7" y="393.4" width="13.4" height="12.0" rx="0" fill="none" stroke="#3a8a8f" stroke-width="0.8"/>
<rect x="261.1" y="394.8" width="10.6" height="9.2" rx="0" fill="none" stroke="#3a8a8f" stroke-width="0.5"/>
<path d="M264.7 368.4h6.6v3.3h-6.6z" fill="none" stroke="#3a8a8f" stroke-width="0.6400000000000001"/>
<path d="M265.0 371.7v3.3a3.0 4.4 0 0 0 6.0 0v-3.3" fill="none" stroke="#3a8a8f" stroke-width="0.8"/>
<path d="M277.5 368.0v2.7a4.8 4.9 0 0 0 9.5 0v-2.7" fill="none" stroke="#3a8a8f" stroke-width="0.8"/>
<path d="M278.9 368.8v2.3a3.4 3.8 0 0 0 6.7 0v-2.3" fill="none" stroke="#3a8a8f" stroke-width="0.5"/>
<polyline points="282.2,368.0 282.2,371.4" fill="none" stroke="#3a8a8f" stroke-width="1"/>
<polyline points="314.8,406.6 325.8,406.6" fill="none" stroke="#4a9094" stroke-width="1.2"/>
<polyline points="250.6,433.2 326.4,433.2" fill="none" stroke="#5a9ea2" stroke-width="1.1" stroke-dasharray="4.5,3"/>
<rect x="250.8" y="418.7" width="10.2" height="12.5" rx="0" fill="none" stroke="#3a8a8f" stroke-width="0.7"/>
<rect x="252.2" y="420.1" width="7.4" height="9.7" rx="0" fill="none" stroke="#3a8a8f" stroke-width="0.5"/>
<polyline points="250.8,425.0 257.0,425.0" fill="none" stroke="#3a8a8f" stroke-width="0.8"/>
<text x="335.5" y="69.5" font-size="8.6" fill="#2c2c2c" stroke="#2c2c2c" text-anchor="middle">20,0</text>
<text x="399.5" y="53.7" font-size="8.6" fill="#2c2c2c" stroke="#2c2c2c" text-anchor="middle">12,6</text>
<text x="458.5" y="55.4" font-size="8.6" fill="#2c2c2c" stroke="#2c2c2c" text-anchor="middle">12,3</text>
<text x="533.3" y="76.6" font-size="8.6" fill="#2c2c2c" stroke="#2c2c2c" text-anchor="middle">18,9</text>
<text x="444.5" y="101.3" font-size="8.6" fill="#2c2c2c" stroke="#2c2c2c" text-anchor="middle">9,0</text>
<text x="379.7" y="99.6" font-size="8.6" fill="#2c2c2c" stroke="#2c2c2c" text-anchor="middle">2,1</text>
<text x="405.7" y="114.2" font-size="8.6" fill="#2c2c2c" stroke="#2c2c2c" text-anchor="middle">4,5</text>
<text x="405.7" y="147.8" font-size="8.6" fill="#2c2c2c" stroke="#2c2c2c" text-anchor="middle">1,9</text>
<text x="409.8" y="179.0" font-size="8.6" fill="#2c2c2c" stroke="#2c2c2c" text-anchor="middle">3,6</text>
<text x="350.4" y="172.6" font-size="8.6" fill="#2c2c2c" stroke="#2c2c2c" text-anchor="middle">18,3</text>
<text x="537.0" y="124.0" font-size="8.6" fill="#2c2c2c" stroke="#2c2c2c" text-anchor="middle">9,5</text>
<text x="463.2" y="121.4" font-size="8.6" fill="#2c2c2c" stroke="#2c2c2c" text-anchor="middle">1,8</text>
<text x="492.0" y="133.5" font-size="8.6" fill="#2c2c2c" stroke="#2c2c2c" text-anchor="middle">3,6</text>
<text x="476.5" y="174.0" font-size="8.6" fill="#2c2c2c" stroke="#2c2c2c" text-anchor="middle">3,6</text>
<text x="552.6" y="177.1" font-size="8.6" fill="#2c2c2c" stroke="#2c2c2c" text-anchor="middle">13,6</text>
<text x="477.4" y="215.0" font-size="8.6" fill="#2c2c2c" stroke="#2c2c2c" text-anchor="middle">4,1</text>
<text x="484.4" y="242.0" font-size="8.6" fill="#2c2c2c" stroke="#2c2c2c" text-anchor="middle">4,0</text>
<text x="539.5" y="230.5" font-size="8.6" fill="#2c2c2c" stroke="#2c2c2c" text-anchor="middle">10,2</text>
<text x="539.5" y="293.0" font-size="8.6" fill="#2c2c2c" stroke="#2c2c2c" text-anchor="middle">16,2</text>
<text x="473.6" y="328.5" font-size="8.6" fill="#2c2c2c" stroke="#2c2c2c" text-anchor="middle">3,8</text>
<text x="484.4" y="357.3" font-size="8.6" fill="#2c2c2c" stroke="#2c2c2c" text-anchor="middle">4,1</text>
<text x="539.5" y="351.0" font-size="8.6" fill="#2c2c2c" stroke="#2c2c2c" text-anchor="middle">10,4</text>
<text x="535.0" y="408.4" font-size="8.6" fill="#2c2c2c" stroke="#2c2c2c" text-anchor="middle">13,3</text>
<text x="433.9" y="403.9" font-size="8.6" fill="#2c2c2c" stroke="#2c2c2c" text-anchor="middle">2,2</text>
<text x="459.6" y="403.9" font-size="8.6" fill="#2c2c2c" stroke="#2c2c2c" text-anchor="middle">4,1</text>
<text x="449.2" y="426.6" font-size="8.6" fill="#2c2c2c" stroke="#2c2c2c" text-anchor="middle">4,9</text>
<text x="524.0" y="466.4" font-size="8.6" fill="#2c2c2c" stroke="#2c2c2c" text-anchor="middle">16,9</text>
<text x="432.0" y="466.2" font-size="8.6" fill="#2c2c2c" stroke="#2c2c2c" text-anchor="middle">14,1</text>
<text x="404.3" y="403.9" font-size="8.6" fill="#2c2c2c" stroke="#2c2c2c" text-anchor="middle">5,3</text>
<text x="360.3" y="471.2" font-size="8.6" fill="#2c2c2c" stroke="#2c2c2c" text-anchor="middle">17,4</text>
<text x="352.0" y="389.1" font-size="8.6" fill="#2c2c2c" stroke="#2c2c2c" text-anchor="middle">4,1</text>
<text x="219.9" y="451.2" font-size="8.6" fill="#2c2c2c" stroke="#2c2c2c" text-anchor="middle">13,8</text>
<text x="212.6" y="342.7" font-size="8.6" fill="#2c2c2c" stroke="#2c2c2c" text-anchor="middle">2,6</text>
<text x="212.6" y="382.8" font-size="8.6" fill="#2c2c2c" stroke="#2c2c2c" text-anchor="middle">4,5</text>
<text x="255.6" y="355.0" font-size="8.6" fill="#2c2c2c" stroke="#2c2c2c" text-anchor="middle">10,9</text>
<text x="219.9" y="271.2" font-size="8.6" fill="#2c2c2c" stroke="#2c2c2c" text-anchor="middle">12,3</text>
<text x="277.0" y="300.0" font-size="8.6" fill="#2c2c2c" stroke="#2c2c2c" text-anchor="middle">16,6</text>
<text x="211.6" y="318.7" font-size="8.6" fill="#2c2c2c" stroke="#2c2c2c" text-anchor="middle">3,1</text>
<text x="282.2" y="389.0" font-size="8.6" fill="#2f787c" stroke="#2f787c" text-anchor="middle">3,8</text>
<text x="309.6" y="394.7" font-size="8.6" fill="#2f787c" stroke="#2f787c" text-anchor="middle">4,0</text>
<text x="284.7" y="424.4" font-size="8.6" fill="#2f787c" stroke="#2f787c" text-anchor="middle">5,9</text>
<text x="291.6" y="482.5" font-size="8.6" fill="#2f787c" stroke="#2f787c" text-anchor="middle">13,4</text>
<circle cx="531.7" cy="47.2" r="15.3" fill="none" stroke="#5c5452" stroke-width="1"/>
<polyline points="516.4,47.2 547.0,47.2" fill="none" stroke="#5c5452" stroke-width="1"/>
<text x="531.7" y="44.0" font-size="10.8" fill="#2c2c2c" stroke="#2c2c2c" text-anchor="middle">2</text>
<text x="531.7" y="57.2" font-size="8.6" fill="#2c2c2c" stroke="#2c2c2c" text-anchor="middle">55,1</text>
<circle cx="350.0" cy="142.8" r="15.3" fill="none" stroke="#5c5452" stroke-width="1"/>
<polyline points="334.7,142.8 365.3,142.8" fill="none" stroke="#5c5452" stroke-width="1"/>
<text x="350.0" y="139.6" font-size="10.8" fill="#2c2c2c" stroke="#2c2c2c" text-anchor="middle">2</text>
<text x="350.0" y="152.8" font-size="8.6" fill="#2c2c2c" stroke="#2c2c2c" text-anchor="middle">63,0</text>
<circle cx="520.8" cy="173.5" r="15.3" fill="none" stroke="#5c5452" stroke-width="1"/>
<polyline points="505.5,173.5 536.1,173.5" fill="none" stroke="#5c5452" stroke-width="1"/>
<text x="520.8" y="170.3" font-size="10.8" fill="#2c2c2c" stroke="#2c2c2c" text-anchor="middle">1</text>
<text x="520.8" y="183.5" font-size="8.6" fill="#2c2c2c" stroke="#2c2c2c" text-anchor="middle">35,5</text>
<circle cx="507.3" cy="289.9" r="15.3" fill="none" stroke="#5c5452" stroke-width="1"/>
<polyline points="492.0,289.9 522.6,289.9" fill="none" stroke="#5c5452" stroke-width="1"/>
<text x="507.3" y="286.7" font-size="10.8" fill="#2c2c2c" stroke="#2c2c2c" text-anchor="middle">1</text>
<text x="507.3" y="299.9" font-size="8.6" fill="#2c2c2c" stroke="#2c2c2c" text-anchor="middle">34,5</text>
<circle cx="359.6" cy="433.2" r="15.3" fill="none" stroke="#5c5452" stroke-width="1"/>
<polyline points="344.3,433.2 374.9,433.2" fill="none" stroke="#5c5452" stroke-width="1"/>
<text x="359.6" y="430.0" font-size="10.8" fill="#2c2c2c" stroke="#2c2c2c" text-anchor="middle">3</text>
<text x="359.6" y="443.2" font-size="8.6" fill="#2c2c2c" stroke="#2c2c2c" text-anchor="middle">82,3</text>
<circle cx="276.0" cy="266.1" r="15.3" fill="none" stroke="#5c5452" stroke-width="1"/>
<polyline points="260.7,266.1 291.3,266.1" fill="none" stroke="#5c5452" stroke-width="1"/>
<text x="276.0" y="262.9" font-size="10.8" fill="#2c2c2c" stroke="#2c2c2c" text-anchor="middle">2</text>
<text x="276.0" y="276.1" font-size="8.6" fill="#2c2c2c" stroke="#2c2c2c" text-anchor="middle">63,8</text>
<circle cx="291.6" cy="454.4" r="15.3" fill="none" stroke="#3a8a8f" stroke-width="1"/>
<polyline points="276.3,454.4 306.9,454.4" fill="none" stroke="#3a8a8f" stroke-width="1"/>
<text x="291.6" y="451.2" font-size="10.8" fill="#2f787c" stroke="#2f787c" text-anchor="middle">1C</text>
<text x="291.6" y="464.4" font-size="8.6" fill="#2f787c" stroke="#2f787c" text-anchor="middle">27,1</text>
</svg>
</body></html>
